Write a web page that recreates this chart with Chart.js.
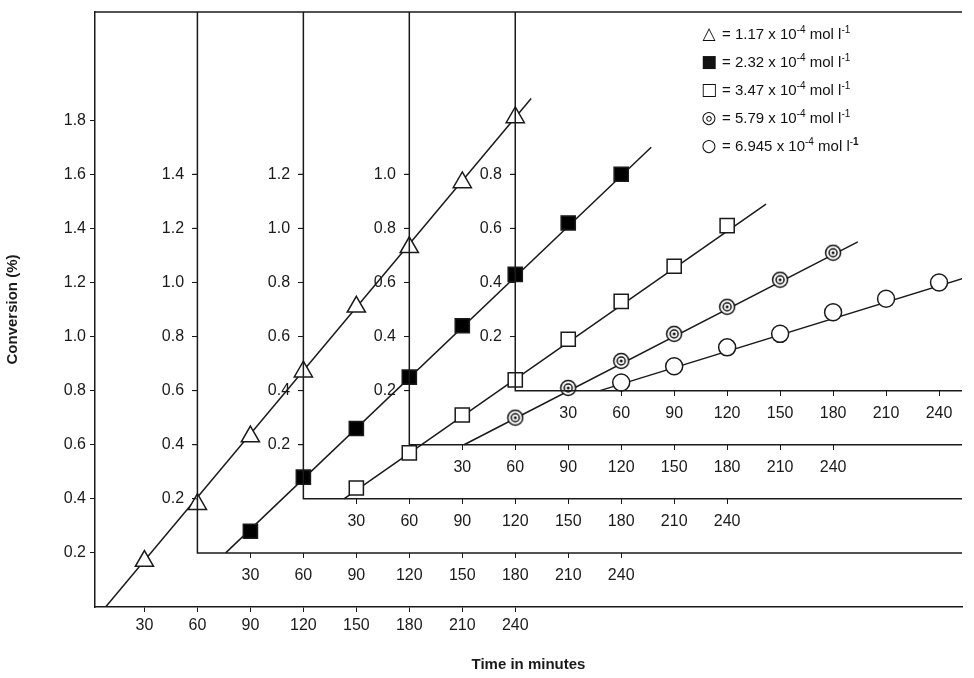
<!DOCTYPE html>
<html><head><meta charset="utf-8">
<script src="https://cdn.jsdelivr.net/npm/chart.js@4.4.0/dist/chart.umd.min.js"></script>
<style>
html,body{margin:0;padding:0;background:#fff;}
#wrap{position:relative;width:974px;height:678px;}
#legend{position:absolute;left:700px;top:18px;font-family:"Liberation Sans",Arial,sans-serif;font-size:15px;color:#111;line-height:24px;}
#legend .m{display:inline-block;width:18px;font-family:"DejaVu Sans";font-size:17px;text-align:center;margin-right:4px;}
#legend sup{font-size:10px;}
</style></head>
<body><div id="wrap"><canvas id="c" width="974" height="678"></canvas>
<div id="legend">
<div><span class="m">△</span>= 1.17 x 10<sup>-4</sup> mol l<sup>-1</sup></div>
<div><span class="m">■</span>= 2.32 x 10<sup>-4</sup> mol l<sup>-1</sup></div>
<div><span class="m">□</span>= 3.47 x 10<sup>-4</sup> mol l<sup>-1</sup></div>
<div><span class="m">◎</span>= 5.79 x 10<sup>-4</sup> mol l<sup>-1</sup></div>
<div><span class="m">○</span>= 6.945 x 10<sup>-4</sup> mol l<sup>-<b>1</b></sup></div>
</div></div>
<script>
// Each series is plotted against its own offset frame (frame k origin = 60k min, 0.2k %)
const timesA = [30,60,90,120,150,180,210,240];
const timesB = [60,90,120,150,180,210,240];
const conv1 = [0.17,0.38,0.63,0.87,1.11,1.33,1.57,1.81];   // 1.17e-4, frame 0
const conv2 = [0.08,0.28,0.46,0.65,0.84,1.03,1.22,1.40];   // 2.32e-4, frame 1
const conv3 = [0.04,0.17,0.31,0.44,0.59,0.73,0.86,1.01];   // 3.47e-4, frame 2
const conv4 = [0.10,0.21,0.31,0.41,0.51,0.61,0.71];        // 5.79e-4, frame 3
const conv5 = [0.03,0.09,0.16,0.21,0.29,0.34,0.40];        // 6.945e-4, frame 4
const fitX = [[8,249],[16,257],[23,262],[31,254],[48,256]];
const fitY = [[0,1.88],[0,1.50],[0,1.09],[0,0.75],[0,0.42]];
const xTicks = [30,60,90,120,150,180,210,240];
const yTicksMax = [1.8,1.4,1.2,1.0,0.8];

const be = document.createElement('canvas'); be.width=18; be.height=18;
{const g=be.getContext('2d'); g.fillStyle='#fff'; g.strokeStyle='#111'; g.lineWidth=1.5;
 g.beginPath(); g.arc(9,9,7.5,0,Math.PI*2); g.fill(); g.stroke();
 g.beginPath(); g.arc(9,9,4,0,Math.PI*2); g.stroke();
 g.fillStyle='#111'; g.beginPath(); g.arc(9,9,1.5,0,Math.PI*2); g.fill();}

const font = {family:'"Liberation Sans", Arial, sans-serif', size:16};
const ink = '#1a1a1a';
const X0=2, X1=493, Y0=0, Y1=2.2;
const pts=(xs,ys)=>xs.map((x,i)=>({x, y:ys[i]}));
const series=[
 {d:pts(timesA,conv1), style:'triangle', r:10.5, bg:'#fff'},
 {d:pts(timesA,conv2), style:'rect', r:10, bg:'#000'},
 {d:pts(timesA,conv3), style:'rect', r:10, bg:'#fff'},
 {d:pts(timesB,conv4), style:be, r:8, bg:'#fff'},
 {d:pts(timesB,conv5), style:'circle', r:8.5, bg:'#fff'},
];
const ids=k=>k===0?['x','y']:['x'+k,'y'+k];
const datasets=[];
series.forEach((s,k)=>{
  const [xa,ya]=ids(k);
  datasets.push({type:'line', data:pts(fitX[k],fitY[k]), xAxisID:xa, yAxisID:ya, borderColor:ink, borderWidth:1.5, pointRadius:0, order:2});
  datasets.push({type:'scatter', data:s.d, xAxisID:xa, yAxisID:ya, pointStyle:s.style, pointRadius:s.r, pointHoverRadius:s.r,
    backgroundColor:s.bg, borderColor:ink, borderWidth:1.5, order:1});
});
const scales={};
for(let k=0;k<5;k++){
  const [xa,ya]=ids(k);
  const ymax=yTicksMax[k];
  const xs={type:'linear', min:X0-60*k, max:X1-60*k,
    afterBuildTicks:s=>{s.ticks=xTicks.map(v=>({value:v}));},
    ticks:{font, color:ink, padding:k===0?4:8, callback:v=>String(v), autoSkip:false, maxRotation:0},
    grid:{drawOnChartArea:false, tickLength:5, color:ink, lineWidth:1}, border:{display:k===0, color:ink, width:1.5}};
  const ys={type:'linear', min:Y0-0.2*k, max:Y1-0.2*k,
    afterBuildTicks:s=>{const t=[];for(let v=0.2;v<=ymax+1e-6;v+=0.2)t.push({value:Math.round(v*10)/10});s.ticks=t;},
    ticks:{font, color:ink, padding:4, callback:k===0?(v=>v.toFixed(1)):(v=>v.toFixed(1)+'   '), autoSkip:false},
    grid:{drawOnChartArea:false, tickLength:5, color:ink, lineWidth:1}, border:{display:k===0, color:ink, width:1.5}};
  if(k===0){
    xs.position='bottom'; ys.position='left';
    xs.afterFit=s=>{s.height=71; s.paddingLeft=0; s.paddingRight=0;};
    ys.afterFit=s=>{s.width=95; s.paddingTop=0; s.paddingBottom=0;};
    xs.title={display:true, text:'Time in minutes', font:{family:font.family,size:15,weight:'bold'}, color:ink, padding:{top:22}};
    ys.title={display:true, text:'Conversion (%)', font:{family:font.family,size:15,weight:'bold'}, color:ink, padding:{bottom:12}};
  } else {
    xs.position={y:0.2*k}; ys.position={x:60*k};
    xs.afterFit=s=>{s.height=0; s.paddingLeft=0; s.paddingRight=0;};
    ys.afterFit=s=>{s.width=0; s.paddingTop=0; s.paddingBottom=0;};
  }
  scales[xa]=xs; scales[ya]=ys;
}
const frames={id:'frames', afterDatasetsDraw(ch){
  const g=ch.ctx, a=ch.chartArea, X=ch.scales.x, Y=ch.scales.y;
  g.save(); g.strokeStyle=ink; g.lineWidth=1.5;
  g.beginPath(); g.moveTo(a.left,a.top); g.lineTo(a.right,a.top); g.stroke();
  for(let k=1;k<5;k++){
    const px=X.getPixelForValue(60*k), py=Y.getPixelForValue(0.2*k);
    g.beginPath(); g.moveTo(px,a.top); g.lineTo(px,py); g.lineTo(a.right,py); g.stroke();
    const Yk=ch.scales['y'+k];
    Yk.ticks.forEach(t=>{const yy=Yk.getPixelForValue(t.value); g.lineWidth=1; g.beginPath(); g.moveTo(px-5,yy); g.lineTo(px,yy); g.stroke();});
    g.lineWidth=1.5;
  }
  g.restore();
}};
new Chart(document.getElementById('c'),{
  data:{datasets},
  options:{responsive:false, animation:false, devicePixelRatio:1,
    layout:{padding:{top:10,right:-12,left:0,bottom:0}},
    plugins:{legend:{display:false}, tooltip:{enabled:false}},
    scales},
  plugins:[frames]
});
</script></body></html>
